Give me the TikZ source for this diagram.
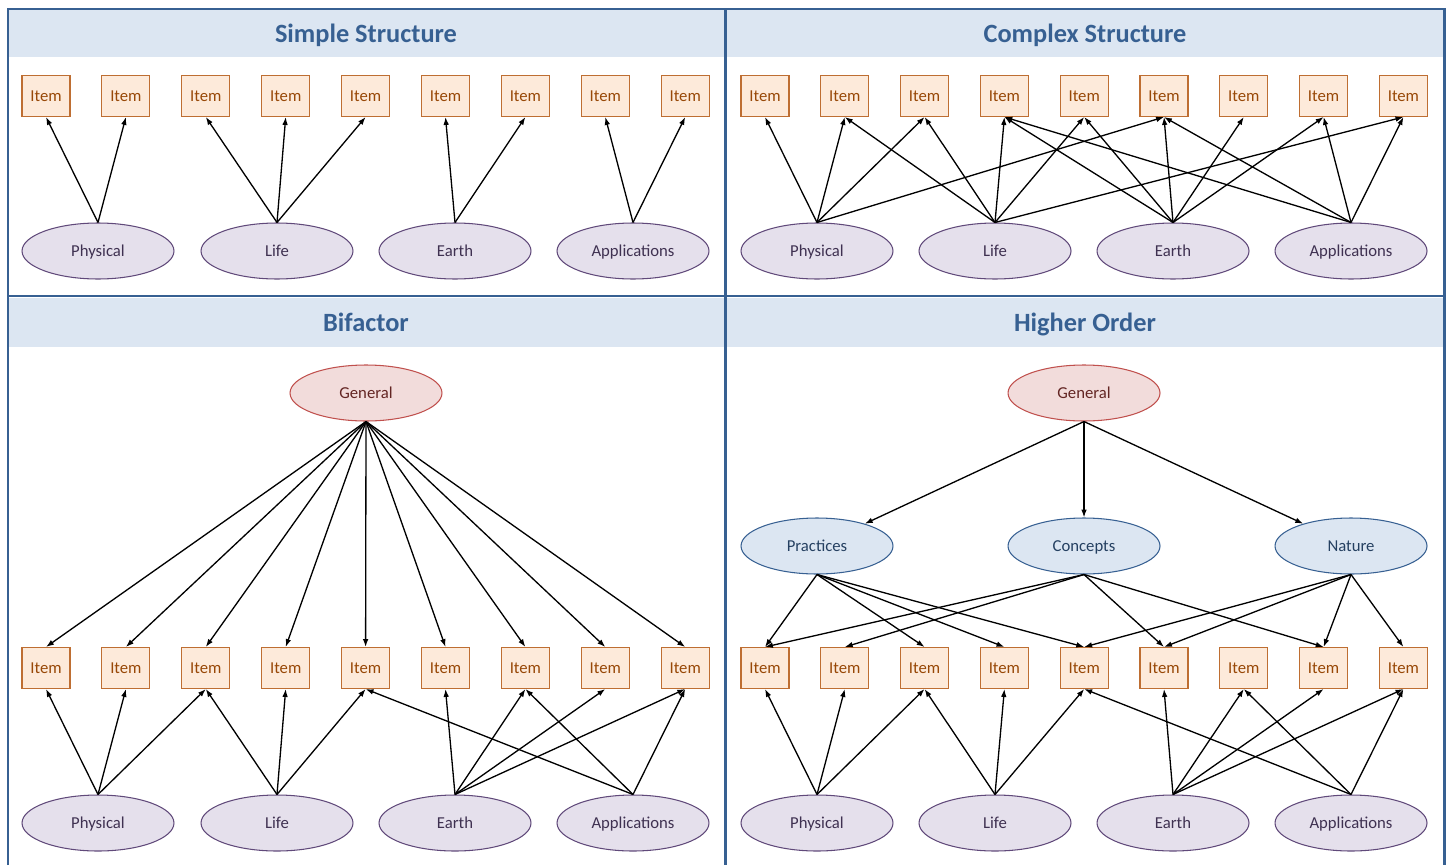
\documentclass[tikz,border=0pt]{standalone}
\usepackage{fontspec}
\setmainfont{Carlito}
\usetikzlibrary{arrows.meta,positioning,shapes.geometric}
\definecolor{frameblue}{RGB}{55,96,146}
\definecolor{headfill}{RGB}{220,230,242}
\definecolor{itemfill}{RGB}{253,234,218}
\definecolor{itemdraw}{RGB}{190,110,50}
\definecolor{itemtext}{RGB}{152,72,7}
\definecolor{factfill}{RGB}{229,224,236}
\definecolor{factdraw}{RGB}{96,73,122}
\definecolor{facttext}{RGB}{63,49,81}
\definecolor{genfill}{RGB}{242,220,219}
\definecolor{gendraw}{RGB}{192,80,77}
\definecolor{gentext}{RGB}{99,37,35}
\definecolor{facetdraw}{RGB}{55,96,146}
\definecolor{facettext}{RGB}{37,64,97}
\tikzset{
  % indicator box
  item/.style={
    draw=itemdraw,
    fill=itemfill,
    text=itemtext,
    line width=0.6pt,
    minimum width=0.96cm,
    minimum height=0.82cm,
    inner sep=0pt,
    text height=1.5ex,
    text depth=0.3ex,
    font=\fontsize{9.5}{11}\selectfont
  },
  % latent factor
  factor/.style={
    ellipse,
    draw=factdraw,
    fill=factfill,
    text=facttext,
    line width=0.6pt,
    minimum width=3.04cm,
    minimum height=1.12cm,
    inner sep=0pt,
    text height=1.5ex,
    text depth=0.3ex,
    font=\fontsize{9.5}{11}\selectfont
  },
  general/.style={factor, draw=gendraw, fill=genfill, text=gentext},
  facet/.style={factor, draw=facetdraw, fill=headfill, text=facettext},
  % panel title
  paneltitle/.style={font=\fontsize{15}{18}\selectfont\bfseries, text=frameblue,
    text height=1.5ex, text depth=0.3ex},
  framed/.style={draw=frameblue, line width=1.7pt},
  arr/.style={-{Latex[length=4.5pt,width=3.2pt]}, line width=0.75pt},
}

\begin{document}
\begin{tikzpicture}[x=0.02cm, y=-0.02cm]
    \useasboundingbox (0,0) rectangle (1449,865);

    % Panels
    \fill[headfill] (8,9) rectangle (1444,57);
    \fill[headfill] (8,298) rectangle (1444,347);
    \draw[framed] (8,865) -- (8,9) -- (1444,9) -- (1444,865);
    \draw[framed] (725,9) -- (725,865);
    \draw[framed] (8,296) -- (1444,296);

    \node[paneltitle] (tsimple) at (366,37) {Simple Structure};
    \node[paneltitle] (tcomplex) at (1085,37) {Complex Structure};
    \node[paneltitle] (tbifac) at (366,326) {Bifactor};
    \node[paneltitle] (thigher) at (1085,326) {Higher Order};

    % Items
    \foreach \i in {1,...,9} {
        \node[item] (s\i) at ({46+79.9*(\i-1)},96) {Item};
        \node[item] (c\i) at ({765+79.8*(\i-1)},96) {Item};
        \node[item] (b\i) at ({46+79.9*(\i-1)},668) {Item};
        \node[item] (h\i) at ({765+79.8*(\i-1)},668) {Item};
    }

    % Domain factors
    \foreach \p/\y in {s/251, b/823} {
        \node[factor] (\p phy) at (98,\y) {Physical};
        \node[factor] (\p lif) at (277,\y) {Life};
        \node[factor] (\p ear) at (455,\y) {Earth};
        \node[factor] (\p app) at (633,\y) {Applications};
    }
    \foreach \p/\y in {c/251, h/823} {
        \node[factor] (\p phy) at (817,\y) {Physical};
        \node[factor] (\p lif) at (995,\y) {Life};
        \node[factor] (\p ear) at (1173,\y) {Earth};
        \node[factor] (\p app) at (1351,\y) {Applications};
    }

    % General and facet factors
    \node[general] (bgen) at (366,393) {General};
    \node[general] (hgen) at (1084,393) {General};
    \node[facet] (hpra) at (817,546) {Practices};
    \node[facet] (hcon) at (1084,546) {Concepts};
    \node[facet] (hnat) at (1351,546) {Nature};

    % Simple structure
    \foreach \f/\t in {phy/1, phy/2, lif/3, lif/4, lif/5, ear/6, ear/7, app/8, app/9}
        \draw[arr] (s\f.north) -- (s\t.south);

    % Complex structure
    \foreach \f/\t in {phy/1, phy/2, phy/3, phy/6, lif/2, lif/3, lif/4, lif/5, lif/9,
                       ear/4, ear/5, ear/6, ear/7, ear/8, app/4, app/6, app/8, app/9}
        \draw[arr] (c\f.north) -- (c\t.south);

    % Bifactor and higher order, lower part
    \foreach \p in {b, h}
        \foreach \f/\t in {phy/1, phy/2, phy/3, lif/3, lif/4, lif/5,
                           ear/6, ear/7, ear/8, ear/9, app/5, app/7, app/9}
            \draw[arr] (\p\f.north) -- (\p\t.south);

    \foreach \t in {1,...,9}
        \draw[arr] (bgen.south) -- (b\t.north);

    % Higher order, upper part
    \foreach \t in {hpra, hcon, hnat}
        \draw[arr] (hgen.south) -- (\t);
    \foreach \f/\t in {pra/1, pra/3, pra/4, pra/5, con/1, con/2, con/6, con/8,
                       nat/5, nat/6, nat/8, nat/9}
        \draw[arr] (h\f.south) -- (h\t.north);
\end{tikzpicture}
\end{document}
